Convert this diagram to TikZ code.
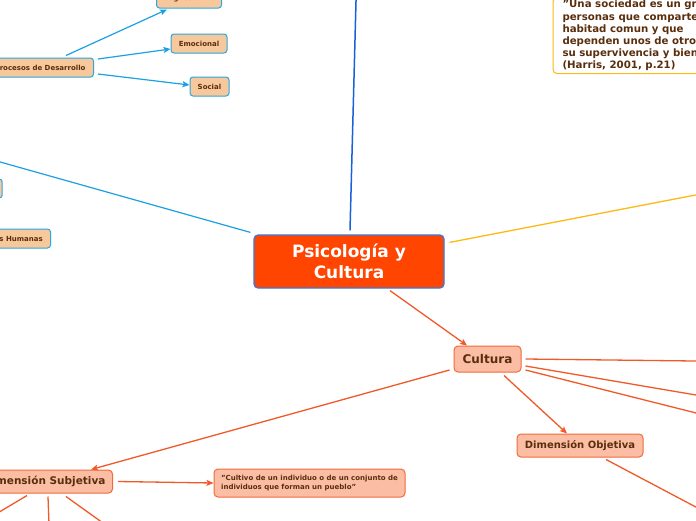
\documentclass[tikz,border=0pt]{standalone}
\usepackage{fontspec}
\setmainfont{DejaVu Sans}
\usetikzlibrary{arrows.meta,calc}
\definecolor{psyfill}{HTML}{FF4500}
\definecolor{psyborder}{HTML}{3C78D8}
\definecolor{culfill}{HTML}{FBBEA5}
\definecolor{culborder}{HTML}{F26A3D}
\definecolor{orangeL}{HTML}{F05A28}
\definecolor{peachfill}{HTML}{F6C89C}
\definecolor{cyanborder}{HTML}{2AA7E1}
\definecolor{cyanL}{HTML}{1BA1E2}
\definecolor{darktext}{HTML}{5A2E0C}
\definecolor{blueL}{HTML}{1861D9}
\definecolor{yellowL}{HTML}{FDBA12}
\begin{document}
\begin{tikzpicture}[x=1pt,y=-1pt,
  psybox/.style={draw=psyborder, fill=psyfill, line width=1.2pt, rounded corners=4pt,
    minimum width=190pt, minimum height=53pt, inner sep=0pt, align=center, text=white,
    font=\bfseries\fontsize{17}{20.5}\selectfont},
  culbox/.style={draw=culborder, fill=culfill, line width=1pt, rounded corners=4pt,
    inner sep=0pt, text=darktext, font=\bfseries},
  peachbox/.style={draw=cyanborder, fill=peachfill, line width=1pt, rounded corners=3pt,
    minimum height=19pt, inner sep=0pt, text=darktext, font=\bfseries\fontsize{7}{8.5}\selectfont},
  orangeline/.style={draw=orangeL, line width=1.3pt},
  cyanline/.style={draw=cyanL, line width=1.2pt},
  arr/.style={-{Stealth[length=7pt,width=6pt,inset=1.5pt]}}
]
\useasboundingbox (0,0) rectangle (696,520);
\clip (0,0) rectangle (696,520);
\fill[white] (0,0) rectangle (696,520);

% coordinates of off-picture ends
\coordinate (lcoord) at (-40,150.7);
\coordinate (tcoord) at (356.3,-10);
\coordinate (ycoord) at (720,190.3);
\coordinate (r1) at (720,361.3);
\coordinate (r2) at (720,399.1);
\coordinate (r3) at (720,419);
\coordinate (r4) at (720,519.8);
\coordinate (d1) at (-20,523.5);
\coordinate (d2) at (49.2,530);
\coordinate (d3) at (113,530.2);

% nodes
\node[psybox] (psy) at (349,261.5) {Psicología y\\Cultura};
\node[culbox, minimum width=67pt, minimum height=26pt, font=\bfseries\fontsize{12}{14}\selectfont] (cul) at (487.5,359) {Cultura};
\node[culbox, minimum width=126pt, minimum height=23pt, font=\bfseries\fontsize{10}{12}\selectfont] (dobj) at (580,445.5) {Dimensión Objetiva};
\node[culbox, anchor=east, minimum height=23pt, inner xsep=7pt, font=\bfseries\fontsize{10.5}{12}\selectfont] (dsub) at (113,481.5) {Dimensión Subjetiva};
\node[culbox, minimum width=191pt, minimum height=28pt, align=left, font=\bfseries\fontsize{7}{9}\selectfont] (cult) at (309.5,483) {"Cultivo de un individuo o de un conjunto de\\individuos que forman un pueblo"};

\node[peachbox, minimum width=65pt] (cog) at (189,-1.5) {Cognoscitivo};
\node[peachbox, minimum width=56pt] (emo) at (199,43.5) {Emocional};
\node[peachbox, minimum width=39pt] (soc) at (209.5,86.5) {Social};
\node[peachbox, anchor=east, inner xsep=8pt] (proc) at (94,67.5) {Procesos de Desarrollo};
\node[peachbox, anchor=east, minimum width=40pt] (lefta) at (2.7,188.5) {};
\node[peachbox, anchor=east, inner xsep=7.7pt] (hum) at (51,238.5) {Necesidades Humanas};

\node[anchor=south west, draw=yellowL, fill=white, line width=1pt, rounded corners=4pt,
  inner xsep=9.5pt, inner ysep=2.5pt, align=left, text=darktext,
  font=\bfseries\fontsize{10.2}{12.2}\selectfont] (harris) at (552.5,74)
  {"Una sociedad es un grupo de\\personas que comparten un\\habitad comun y que\\dependen unos de otros para\\su supervivencia y bienestar"\\(Harris, 2001, p.21)};

% connectors
\draw[cyanline] ([xshift=-3pt,yshift=2pt]psy.north west) -- (lcoord);
\draw[blueL, line width=1.5pt] ([xshift=1pt,yshift=4pt]psy.north) -- (tcoord);
\draw[yellowL, line width=1.3pt] ([xshift=5pt,yshift=-8pt]psy.north east) -- (ycoord);
\draw[orangeline, arr] ([xshift=41pt,yshift=-2pt]psy.south) -- ([xshift=-20.5pt]cul.north);

\draw[orangeline] ([xshift=4pt]cul.east) -- (r1);
\draw[orangeline] ([xshift=4pt,yshift=-7pt]cul.east) -- (r2);
\draw[orangeline] ([xshift=4pt,yshift=-11pt]cul.east) -- (r3);
\draw[orangeline, arr] ([xshift=16.5pt,yshift=-3pt]cul.south) -- ([xshift=-13pt]dobj.north);
\draw[orangeline, arr] ([xshift=-4pt,yshift=-11pt]cul.west) -- ([xshift=-22pt]dsub.north east);
\draw[orangeline] ([xshift=26pt,yshift=-2pt]dobj.south) -- (r4);
\draw[orangeline, arr] ([xshift=5pt]dsub.east) -- (cult.west);
\draw[orangeline] ([xshift=-86pt,yshift=-2pt]dsub.south east) -- (d1);
\draw[orangeline] ([xshift=-65pt,yshift=-3pt]dsub.south east) -- (d2);
\draw[orangeline] ([xshift=-47pt,yshift=-3pt]dsub.south east) -- (d3);

\draw[cyanline, arr] ([xshift=-28pt,yshift=2pt]proc.north east) -- ([xshift=-22pt,yshift=-1pt]cog.south);
\draw[cyanline, arr] ([xshift=4pt,yshift=8.5pt]proc.east) -- ([yshift=-5.5pt]emo.west);
\draw[cyanline, arr] ([xshift=4pt,yshift=-6.5pt]proc.east) -- ([yshift=1.5pt]soc.west);
\end{tikzpicture}
\end{document}
